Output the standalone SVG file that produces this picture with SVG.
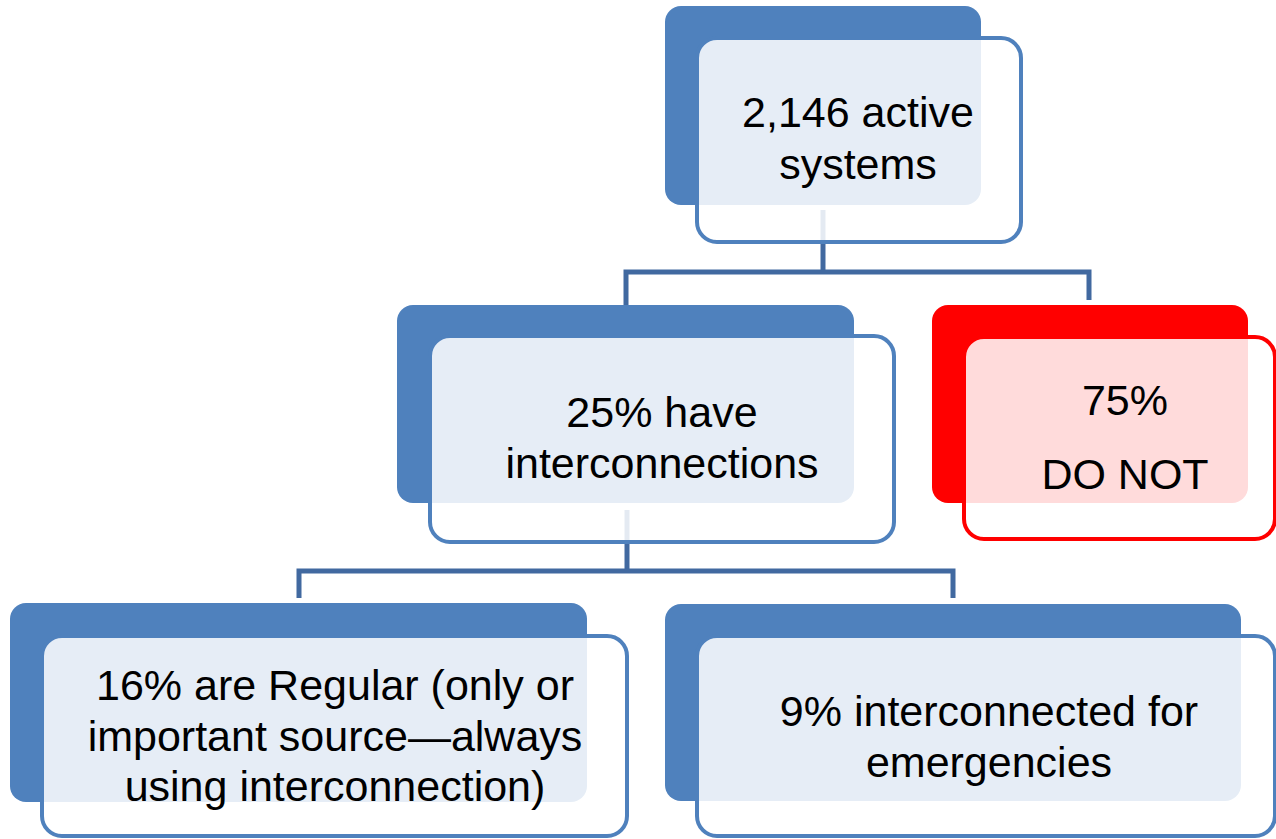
<svg xmlns="http://www.w3.org/2000/svg" width="1276" height="839" viewBox="0 0 1276 839">
  <style>
    .back-blue { fill: #4F81BD; }
    .back-red { fill: #FF0000; }
    .front-blue { fill: #FFFFFF; fill-opacity: 0.86; stroke: #4F81BD; stroke-width: 4; }
    .front-red { fill: #FFFFFF; fill-opacity: 0.86; stroke: #FF0000; stroke-width: 4; }
    .conn { fill: none; stroke: #4169A0; stroke-width: 5; stroke-linejoin: miter; }
    .label { font-family: "Liberation Sans", Arial, sans-serif; font-size: 43px; fill: #000000; text-anchor: middle; }
  </style>
  <rect width="1276" height="839" fill="#FFFFFF"/>
  <g id="connectors">
    <path class="conn" d="M823,210 V272"/>
    <path class="conn" d="M626,306 V272 H1089 V300"/>
    <path class="conn" d="M627,510 V571"/>
    <path class="conn" d="M299,598 V571 H953 V598"/>
  </g>
  <g id="node-active">
    <rect class="back-blue" x="665" y="6" width="316" height="199" rx="16"/>
    <rect class="front-blue" x="697" y="38" width="324" height="204" rx="20"/>
    <text class="label" x="858" y="127">2,146 active</text>
    <text class="label" x="858" y="179">systems</text>
  </g>
  <g id="node-have">
    <rect class="back-blue" x="397" y="305" width="457" height="198" rx="16"/>
    <rect class="front-blue" x="430" y="336" width="464" height="206" rx="20"/>
    <text class="label" x="662" y="427">25% have</text>
    <text class="label" x="662" y="478">interconnections</text>
  </g>
  <g id="node-donot">
    <rect class="back-red" x="932" y="305" width="316" height="198" rx="16"/>
    <rect class="front-red" x="964" y="337" width="311" height="202" rx="20"/>
    <text class="label" x="1125" y="415">75%</text>
    <text class="label" x="1125" y="489">DO NOT</text>
  </g>
  <g id="node-regular">
    <rect class="back-blue" x="10" y="603" width="577" height="199" rx="16"/>
    <rect class="front-blue" x="42" y="636" width="585" height="200" rx="20"/>
    <text class="label" x="335" y="700">16% are Regular (only or</text>
    <text class="label" x="335" y="751">important source—always</text>
    <text class="label" x="335" y="801">using interconnection)</text>
  </g>
  <g id="node-emergency">
    <rect class="back-blue" x="665" y="604" width="576" height="197" rx="16"/>
    <rect class="front-blue" x="697" y="636" width="578" height="200" rx="20"/>
    <text class="label" x="989" y="726">9% interconnected for</text>
    <text class="label" x="989" y="777">emergencies</text>
  </g>
</svg>
